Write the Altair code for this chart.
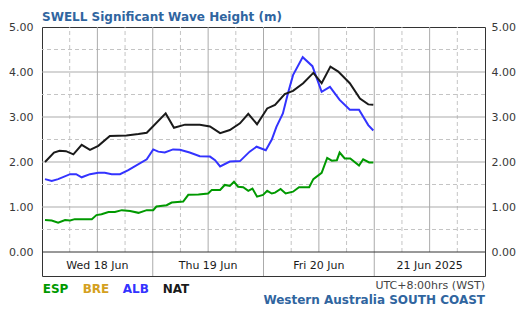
import altair as alt
import pandas as pd

# ---- data (hours from Wed 18 Jun 00:00 local time, values in metres) ----
nat_h = [0.65, 2.6, 3.8, 5.2, 6.8, 8.6, 10.4, 12.2, 14.7, 18.3, 20.9, 22.7, 26.8, 28.6, 31.0,
         34.2, 36.4, 38.6, 40.7, 42.9, 44.7, 46.6, 48.8, 50.5, 52.6, 54.4, 56.6, 58.8, 60.6,
         62.5, 64.2, 66.7, 68.9, 70.7, 71.8]
nat_v = [2.00, 2.21, 2.25, 2.24, 2.17, 2.38, 2.27, 2.36, 2.58, 2.59, 2.62, 2.65, 3.08, 2.76, 2.83,
         2.83, 2.79, 2.64, 2.71, 2.86, 3.07, 2.84, 3.19, 3.27, 3.51, 3.58, 3.75, 3.98, 3.75,
         4.12, 4.01, 3.75, 3.41, 3.28, 3.27]

alb_h = [0.65, 2.1, 3.5, 6.1, 7.4, 8.6, 10.4, 12.2, 13.6, 15.1, 16.9, 18.7, 22.7, 24.1, 25.2,
         26.6, 28.4, 29.9, 32.0, 34.2, 36.4, 37.5, 38.6, 40.7, 42.9, 45.0, 46.5, 48.5, 49.8,
         50.8, 52.2, 53.3, 54.4, 56.5, 58.6, 60.6, 62.4, 64.5, 66.7, 68.7, 70.7, 71.8]
alb_v = [1.62, 1.58, 1.62, 1.73, 1.73, 1.66, 1.73, 1.76, 1.76, 1.73, 1.73, 1.82, 2.06, 2.28, 2.23,
         2.21, 2.28, 2.27, 2.21, 2.13, 2.12, 2.04, 1.90, 2.01, 2.02, 2.23, 2.34, 2.26, 2.50,
         2.78, 3.08, 3.53, 3.93, 4.33, 4.13, 3.56, 3.67, 3.38, 3.16, 3.16, 2.82, 2.70]

esp_h = [0.65, 2.1, 3.5, 5.0, 6.1, 7.1, 8.6, 10.8, 11.8, 12.9, 14.4, 15.8, 17.3, 19.1, 20.9,
         22.7, 24.1, 24.8, 27.0, 28.1, 30.6, 31.7, 33.9, 36.0, 36.8, 38.6, 39.6, 40.7, 41.6,
         42.5, 43.6, 44.7, 45.6, 46.6, 47.9, 48.8, 49.8, 50.5, 51.7, 52.8, 54.4, 55.7, 57.9,
         58.8, 60.6, 61.8, 62.8, 63.9, 64.5, 65.6, 66.8, 68.7, 69.6, 70.9, 71.8]
esp_v = [0.71, 0.70, 0.65, 0.71, 0.70, 0.73, 0.73, 0.73, 0.82, 0.84, 0.89, 0.89, 0.93, 0.91, 0.87,
         0.93, 0.93, 1.01, 1.04, 1.10, 1.12, 1.27, 1.28, 1.30, 1.38, 1.38, 1.49, 1.47, 1.56,
         1.45, 1.44, 1.36, 1.41, 1.23, 1.27, 1.36, 1.30, 1.32, 1.40, 1.30, 1.34, 1.44, 1.44,
         1.62, 1.76, 2.09, 2.03, 2.04, 2.21, 2.08, 2.08, 1.92, 2.06, 1.99, 1.99]

series_names = ["ESP", "BRE", "ALB", "NAT"]
series_colors = ["#009900", "#d4a020", "#3333ff", "#1a1a1a"]

day_centers = [12, 36, 60, 84]
day_labels = ["Wed 18 Jun", "Thu 19 Jun", "Fri 20 Jun", "21 Jun 2025"]
day_bounds = [24, 48, 72]
solid_v = [12, 36, 60, 84]
dash_v = [6, 18, 30, 42, 54, 66, 78, 90]
solid_h = [1, 2, 3, 4]
dash_h = [0.5, 1.5, 2.5, 3.5, 4.5]
y_ticks = [0, 1, 2, 3, 4, 5]

title_text = "SWELL Significant Wave Height (m)"
tz_text = "UTC+8:00hrs (WST)"
region_text = "Western Australia SOUTH COAST"

# ---- build ----
FONT = "DejaVu Sans"
W, H = 443, 249
xs = alt.Scale(domain=[0, 96], nice=False, zero=False)
ys = alt.Scale(domain=[-24 / 45, 5], nice=False, zero=False)

rows = []
for name, hs, vs in [("ESP", esp_h, esp_v), ("ALB", alb_h, alb_v), ("NAT", nat_h, nat_v)]:
    for h, v in zip(hs, vs):
        rows.append({"series": name, "h": h, "v": v})
df = pd.DataFrame(rows)

grid_solid = "#ababab"
grid_dash = "#c4c4c4"


def y_axis(orient, pad):
    return alt.Axis(orient=orient, values=y_ticks, format=".2f", ticks=False, title=None,
                    domain=False, grid=False, labelPadding=pad, labelFontSize=11,
                    labelFont=FONT, labelColor="#383838")


hs_layer = alt.Chart(pd.DataFrame({"y": solid_h})).mark_rule(color=grid_solid, strokeWidth=1).encode(
    y=alt.Y("y:Q", scale=ys, axis=y_axis("right", 6))
)
hd_layer = alt.Chart(pd.DataFrame({"y": dash_h})).mark_rule(color=grid_dash, strokeWidth=1, strokeDash=[4, 3]).encode(
    y=alt.Y("y:Q", scale=ys, axis=None)
)
vs_layer = alt.Chart(pd.DataFrame({"x": solid_v})).mark_rule(color=grid_solid, strokeWidth=1).encode(
    x=alt.X("x:Q", scale=xs, axis=None), y=alt.Y(datum=0, scale=ys, axis=None), y2=alt.datum(5)
)
vd_layer = alt.Chart(pd.DataFrame({"x": dash_v})).mark_rule(color=grid_dash, strokeWidth=1, strokeDash=[4, 3]).encode(
    x=alt.X("x:Q", scale=xs, axis=None), y=alt.Y(datum=0, scale=ys, axis=None), y2=alt.datum(5)
)
vb_layer = alt.Chart(pd.DataFrame({"x": day_bounds})).mark_rule(color=grid_solid, strokeWidth=1).encode(
    x=alt.X("x:Q", scale=xs, axis=None), y=alt.Y(datum=-24 / 45, scale=ys, axis=None), y2=alt.datum(5)
)
zero_layer = alt.Chart(pd.DataFrame({"y": [0]})).mark_rule(color="#333333", strokeWidth=1).encode(
    y=alt.Y("y:Q", scale=ys, axis=None)
)

lines = alt.Chart(df).mark_line(strokeWidth=2).encode(
    x=alt.X("h:Q", scale=xs, axis=None),
    y=alt.Y("v:Q", scale=ys, axis=y_axis("left", 9)),
    color=alt.Color("series:N", scale=alt.Scale(domain=series_names, range=series_colors), legend=None),
    detail="series:N",
)

days = alt.Chart(pd.DataFrame({"x": day_centers, "t": day_labels})).mark_text(
    font=FONT, fontSize=11, color="#1a1a1a", align="center", baseline="alphabetic"
).encode(x=alt.X("x:Q", scale=xs, axis=None), y=alt.value(241.5), text="t:N")


def label(text, x, y, color, size, weight, align="left"):
    return alt.Chart(pd.DataFrame({"t": [text]})).mark_text(
        font=FONT, fontSize=size, fontWeight=weight, color=color, align=align, baseline="alphabetic"
    ).encode(x=alt.value(x), y=alt.value(y), text="t:N")


texts = [label(title_text, 0, -6.5, "#30659f", 12, "bold")]
for i, (n, c) in enumerate(zip(series_names, series_colors)):
    texts.append(label(n, 0.7 + 40 * i, 265.5, c, 12, "bold"))
texts.append(label(tz_text, W, 262.3, "#444444", 11, "normal", "right"))
texts.append(label(region_text, W, 276.5, "#30659f", 12, "bold", "right"))

chart = alt.layer(
    hd_layer, vd_layer, hs_layer, vs_layer, vb_layer, zero_layer, lines, days, *texts
).resolve_axis(y="independent").properties(
    width=W, height=H,
    padding={"left": 42, "top": 27, "right": 36, "bottom": 39},
    autosize=alt.AutoSizeParams(type="none"),
    background="white",
).configure_view(stroke="#333333", strokeWidth=1)

chart.save("out.html", embed_options={"renderer": "svg", "actions": False})
